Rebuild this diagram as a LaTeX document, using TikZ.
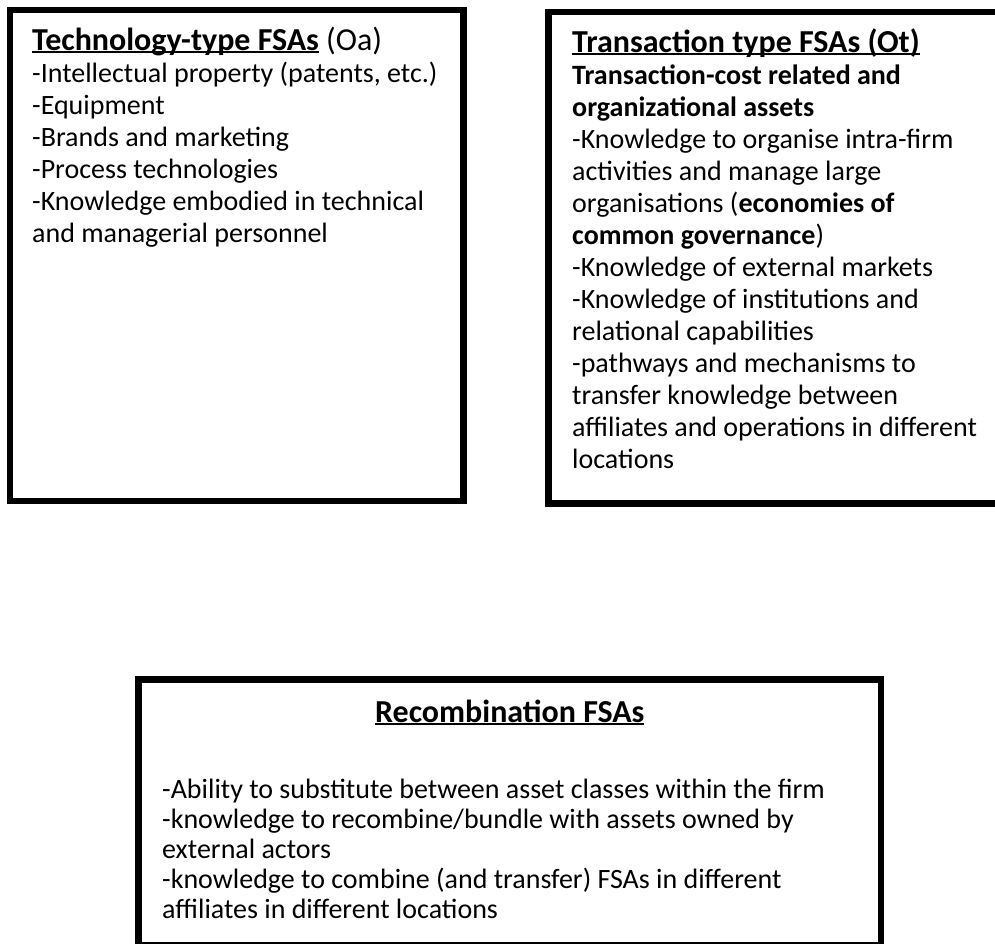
\documentclass[tikz,border=0pt]{standalone}
\usepackage{fontspec}
\setmainfont{Carlito}
\newsavebox\ulbox
\newcommand\fsaul[1]{\sbox\ulbox{#1}\rlap{\rule[-3pt]{\wd\ulbox}{2pt}}\usebox\ulbox}
\newcommand\fsastrut{\rule{0pt}{26pt}}
\newcommand\fsahead{\fontsize{32}{32}\selectfont}
\begin{document}
\begin{tikzpicture}[x=1pt, y=1pt,
    fsabox/.style={draw, line width=6.5pt, inner sep=0pt, outer sep=0pt, anchor=north west},
    fsatext/.style={anchor=north west, align=left, inner sep=0pt, font=\fontsize{28}{32}\selectfont}]
    \useasboundingbox (0,0) rectangle (995,-944);
    \node[fsabox, minimum width=453.5pt, minimum height=491pt] (tech) at (10,-10) {};
    \node[fsabox, minimum width=455pt, minimum height=491.5pt] (trans) at (548.5,-12) {};
    \node[fsabox, minimum width=742.5pt, minimum height=266pt] (recomb) at (138.5,-679.5) {};
    \node[fsatext] (techtext) at ([shift={(22,-14)}]tech.north west) {\fsastrut{\fsahead\fsaul{\textbf{Technology-type FSAs}} (Oa)}\\
        -Intellectual property (patents, etc.)\\
        -Equipment\\
        -Brands and marketing\\
        -Process technologies\\
        -Knowledge embodied in technical\\
        and managerial personnel};
    \node[fsatext] (transtext) at ([shift={(23.5,-14)}]trans.north west) {\fsastrut{\fsahead\fsaul{\textbf{Transaction type FSAs (Ot)}}}\\
        \textbf{Transaction-cost related and}\\
        \textbf{organizational assets}\\
        -Knowledge to organise intra-firm\\
        activities and manage large\\
        organisations (\textbf{economies of}\\
        \textbf{common governance})\\
        -Knowledge of external markets\\
        -Knowledge of institutions and\\
        relational capabilities\\
        -pathways and mechanisms to\\
        transfer knowledge between\\
        affiliates and operations in different\\
        locations};
    \node[fsatext, anchor=base, font=\fsahead] (recombtitle) at ([shift={(0,-42.5)}]recomb.north) {\fsaul{\textbf{Recombination FSAs}}};
    \node[fsatext, font=\fontsize{28}{30}\selectfont] (recombtext) at ([shift={(23.5,-92.5)}]recomb.north west) {\fsastrut-Ability to substitute between asset classes within the firm\\
        -knowledge to recombine/bundle with assets owned by\\
        external actors\\
        -knowledge to combine (and transfer) FSAs in different\\
        affiliates in different locations};
\end{tikzpicture}
\end{document}
